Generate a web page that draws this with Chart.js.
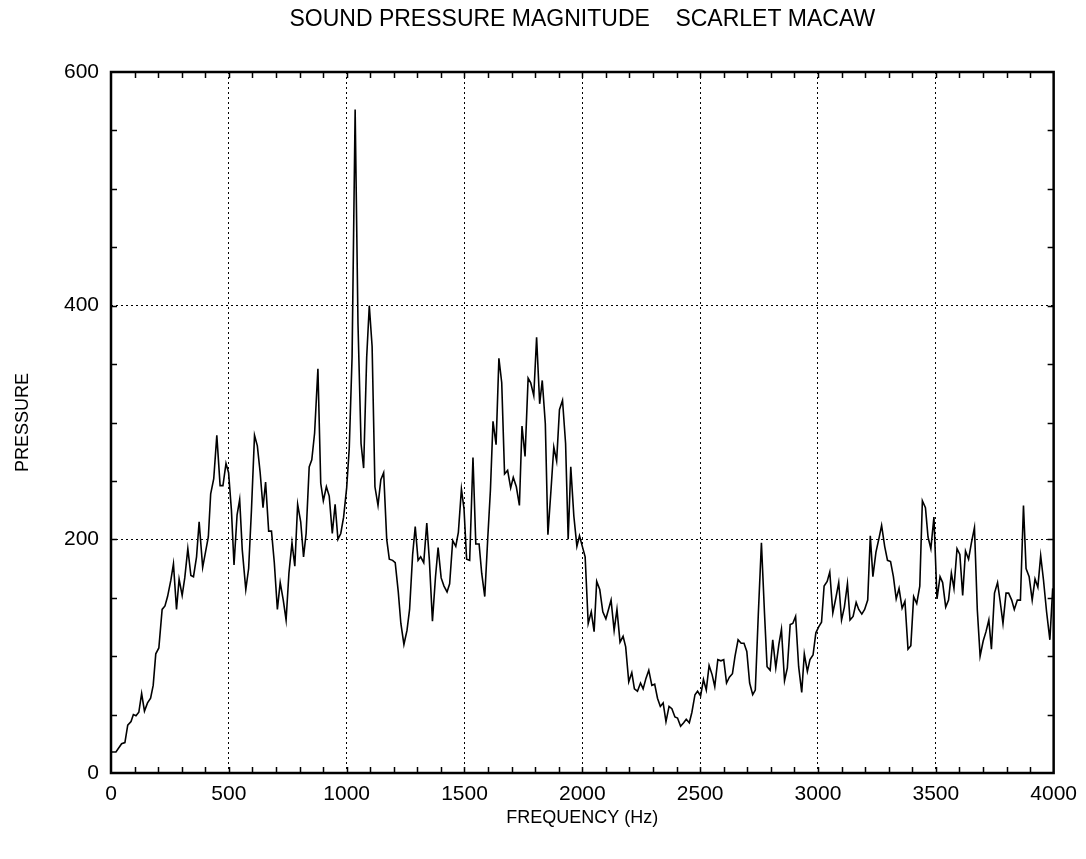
<!DOCTYPE html>
<html>
<head>
<meta charset="utf-8">
<title>Sound pressure magnitude - Scarlet Macaw</title>
<script src="https://cdn.jsdelivr.net/npm/chart.js@4/dist/chart.umd.min.js"></script>
<style>
  html, body { margin: 0; padding: 0; background: #fff; }
  #wrap { width: 1086px; height: 859px; }
</style>
</head>
<body>
<div id="wrap"><canvas id="chart" width="1086" height="859"></canvas></div>
<script>
// valores (Hz, pressao)
const frequencias = [
  0, 21, 45, 59, 71, 85, 95, 106, 118, 130, 142, 155, 168, 179, 190, 203, 217, 229, 240, 254,
  265, 278, 289, 302, 313, 326, 339, 350, 363, 374, 389, 401, 413, 423, 436, 449, 463, 475, 488, 499,
  511, 522, 535, 546, 557, 572, 584, 596, 609, 621, 633, 645, 656, 669, 681, 693, 706, 718, 731, 743,
  755, 768, 780, 792, 805, 817, 828, 841, 852, 864, 878, 890, 901, 914, 926, 939, 951, 963, 975, 987,
  1000, 1011, 1023, 1036, 1048, 1061, 1072, 1085, 1096, 1108, 1120, 1133, 1145, 1157, 1170, 1181, 1195, 1206, 1219, 1230,
  1243, 1256, 1267, 1280, 1291, 1303, 1314, 1327, 1340, 1351, 1364, 1377, 1388, 1401, 1413, 1426, 1437, 1450, 1463, 1474,
  1487, 1498, 1509, 1522, 1536, 1548, 1562, 1573, 1586, 1599, 1610, 1621, 1634, 1646, 1658, 1670, 1683, 1696, 1707, 1720,
  1733, 1744, 1757, 1770, 1781, 1794, 1806, 1819, 1830, 1843, 1854, 1867, 1879, 1891, 1903, 1916, 1929, 1940, 1951, 1964,
  1977, 1988, 2000, 2012, 2025, 2038, 2050, 2061, 2074, 2087, 2100, 2111, 2122, 2135, 2147, 2160, 2173, 2184, 2197, 2210,
  2221, 2234, 2247, 2258, 2270, 2282, 2295, 2307, 2319, 2331, 2343, 2355, 2368, 2380, 2393, 2404, 2417, 2430, 2441, 2454,
  2465, 2478, 2489, 2502, 2514, 2526, 2538, 2551, 2562, 2575, 2588, 2600, 2612, 2624, 2637, 2648, 2661, 2674, 2686, 2698,
  2710, 2723, 2734, 2747, 2760, 2773, 2784, 2797, 2808, 2821, 2834, 2845, 2858, 2870, 2882, 2893, 2905, 2918, 2931, 2942,
  2955, 2966, 2979, 2991, 3003, 3015, 3026, 3039, 3050, 3063, 3076, 3088, 3100, 3112, 3125, 3136, 3149, 3162, 3173, 3186,
  3198, 3211, 3222, 3233, 3246, 3259, 3270, 3283, 3295, 3308, 3320, 3332, 3344, 3357, 3369, 3382, 3394, 3406, 3419, 3432,
  3443, 3456, 3467, 3479, 3492, 3505, 3518, 3529, 3542, 3554, 3566, 3577, 3590, 3602, 3614, 3626, 3639, 3651, 3664, 3676,
  3688, 3701, 3713, 3725, 3736, 3749, 3762, 3773, 3785, 3798, 3809, 3822, 3833, 3846, 3859, 3872, 3883, 3896, 3909, 3921,
  3933, 3945, 3957, 3970, 3984, 3996
];

const pressao = [
  18, 18, 25, 26, 41, 44, 50, 49, 52, 68, 53, 60, 64, 75, 102, 107, 140, 143, 151, 165,
  179, 140, 166, 152, 167, 192, 169, 168, 185, 215, 176, 189, 202, 239, 252, 289, 246, 246, 265, 257,
  225, 178, 221, 234, 191, 157, 175, 225, 289, 280, 257, 227, 249, 207, 207, 180, 140, 163, 148, 131,
  171, 197, 177, 230, 215, 185, 205, 262, 268, 291, 346, 248, 233, 245, 237, 205, 230, 200, 205, 219,
  244, 278, 356, 568, 385, 282, 261, 356, 400, 365, 245, 229, 251, 257, 200, 183, 182, 180, 155, 128,
  110, 122, 140, 187, 211, 182, 185, 180, 214, 182, 130, 168, 193, 167, 160, 155, 162, 199, 194, 206,
  243, 226, 183, 182, 270, 196, 196, 171, 151, 202, 242, 301, 281, 355, 334, 256, 259, 244, 253, 245,
  229, 297, 271, 338, 334, 323, 373, 316, 336, 299, 204, 242, 279, 267, 311, 319, 282, 200, 262, 220,
  194, 203, 194, 185, 128, 138, 121, 164, 157, 138, 132, 140, 148, 122, 140, 112, 117, 108, 78, 86,
  72, 70, 77, 72, 81, 88, 75, 76, 64, 57, 60, 44, 57, 55, 48, 47, 40, 43, 46, 43,
  52, 67, 70, 66, 80, 71, 92, 84, 74, 97, 96, 97, 77, 82, 85, 100, 114, 111, 111, 104,
  77, 67, 71, 137, 197, 137, 91, 88, 114, 90, 110, 123, 79, 90, 127, 128, 134, 91, 69, 102,
  87, 97, 101, 120, 125, 129, 160, 164, 172, 137, 150, 163, 131, 142, 162, 131, 134, 146, 140, 136,
  140, 148, 203, 168, 189, 201, 212, 194, 182, 181, 168, 149, 158, 141, 147, 106, 109, 151, 145, 160,
  233, 227, 202, 192, 219, 149, 168, 163, 142, 148, 171, 158, 192, 187, 152, 190, 183, 197, 210, 140,
  100, 113, 121, 131, 106, 154, 163, 147, 128, 154, 154, 148, 140, 148, 148, 229, 175, 168, 148, 166,
  159, 186, 165, 138, 114, 158
];

const ticksX = [0, 500, 1000, 1500, 2000, 2500, 3000, 3500, 4000];
const ticksY = [0, 200, 400, 600];

const pontos = frequencias.map((f, i) => ({ x: f, y: pressao[i] }));

// moldura e tracinhos para dentro, como no grafico original
const molduraPlugin = {
  id: 'moldura',
  afterDraw(chart) {
    const { ctx, chartArea: a, scales } = chart;
    const t = 6;
    ctx.save();
    ctx.strokeStyle = '#000';
    ctx.lineWidth = 1.5;
    ctx.beginPath();
    for (let v = 100; v < 4000; v += 100) {
      const px = Math.round(scales.x.getPixelForValue(v)) + 0.5;
      ctx.moveTo(px, a.bottom); ctx.lineTo(px, a.bottom - t);
      ctx.moveTo(px, a.top); ctx.lineTo(px, a.top + t);
    }
    for (let v = 50; v < 600; v += 50) {
      const py = Math.round(scales.y.getPixelForValue(v)) + 0.5;
      ctx.moveTo(a.left, py); ctx.lineTo(a.left + t, py);
      ctx.moveTo(a.right, py); ctx.lineTo(a.right - t, py);
    }
    ctx.stroke();
    ctx.lineWidth = 2.5;
    ctx.strokeRect(a.left, a.top, a.right - a.left, a.bottom - a.top);
    ctx.restore();
  }
};

const fonte = 'Liberation Sans, Arial, sans-serif';

new Chart(document.getElementById('chart'), {
  type: 'scatter',
  data: {
    datasets: [{
      data: pontos,
      showLine: true,
      borderColor: '#000',
      borderWidth: 1.6,
      pointRadius: 0,
      tension: 0,
      fill: false
    }]
  },
  options: {
    responsive: false,
    animation: false,
    layout: { padding: { right: 30 } },
    plugins: {
      legend: { display: false },
      tooltip: { enabled: false },
      title: {
        display: true,
        fullSize: false,
        text: 'SOUND PRESSURE MAGNITUDE    SCARLET MACAW',
        color: '#000',
        font: { family: fonte, size: 23, weight: 'normal' },
        padding: { top: 6, bottom: 38.4 }
      }
    },
    scales: {
      x: {
        type: 'linear',
        min: 0,
        max: 4000,
        afterFit: s => { s.height = 86; },
        afterBuildTicks: s => { s.ticks = ticksX.map(v => ({ value: v })); },
        ticks: { color: '#000', font: { family: fonte, size: 21 }, padding: 9, maxRotation: 0, callback: v => String(v) },
        grid: { color: '#000', lineWidth: 1, drawTicks: false },
        border: { display: false, dash: [2, 3] },
        title: {
          display: true,
          text: 'FREQUENCY (Hz)',
          color: '#000',
          font: { family: fonte, size: 18 },
          padding: { top: 0, bottom: 30 }
        }
      },
      y: {
        min: 0,
        max: 600,
        afterFit: s => { s.width = 111; },
        afterBuildTicks: s => { s.ticks = ticksY.map(v => ({ value: v })); },
        ticks: { color: '#000', font: { family: fonte, size: 21 }, padding: 12, callback: v => String(v) },
        grid: { color: '#000', lineWidth: 1, drawTicks: false },
        border: { display: false, dash: [2, 3] },
        title: {
          display: true,
          text: 'PRESSURE',
          color: '#000',
          font: { family: fonte, size: 18 },
          padding: { top: 12, bottom: 0 }
        }
      }
    }
  },
  plugins: [molduraPlugin]
});
</script>
</body>
</html>
